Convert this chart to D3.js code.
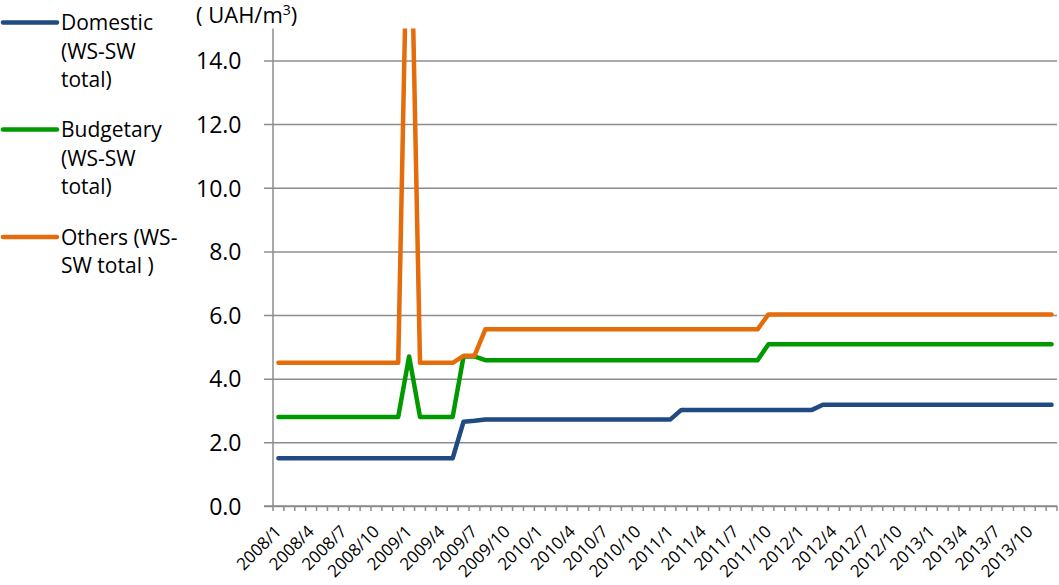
<!DOCTYPE html>
<html>
<head>
<meta charset="utf-8">
<script src="https://cdn.jsdelivr.net/npm/d3@7"></script>
<style>
  body { margin: 0; background: #fff; }
  svg { display: block; font-family: "Open Sans", sans-serif; }
</style>
</head>
<body>
<svg id="chart" width="1059" height="585"></svg>
<script>
// Monthly tariffs, WS-SW total, UAH per cubic metre
const months = [
  "2008/1","2008/2","2008/3","2008/4","2008/5","2008/6","2008/7","2008/8","2008/9","2008/10","2008/11","2008/12",
  "2009/1","2009/2","2009/3","2009/4","2009/5","2009/6","2009/7","2009/8","2009/9","2009/10","2009/11","2009/12",
  "2010/1","2010/2","2010/3","2010/4","2010/5","2010/6","2010/7","2010/8","2010/9","2010/10","2010/11","2010/12",
  "2011/1","2011/2","2011/3","2011/4","2011/5","2011/6","2011/7","2011/8","2011/9","2011/10","2011/11","2011/12",
  "2012/1","2012/2","2012/3","2012/4","2012/5","2012/6","2012/7","2012/8","2012/9","2012/10","2012/11","2012/12",
  "2013/1","2013/2","2013/3","2013/4","2013/5","2013/6","2013/7","2013/8","2013/9","2013/10","2013/11","2013/12"
];

const domestic = [
  1.50,1.50,1.50,1.50,1.50,1.50,1.50,1.50,1.50,1.50,1.50,1.50,
  1.50,1.50,1.50,1.50,1.50,2.65,2.68,2.72,2.72,2.72,2.72,2.72,
  2.72,2.72,2.72,2.72,2.72,2.72,2.72,2.72,2.72,2.72,2.72,2.72,
  2.72,3.02,3.02,3.02,3.02,3.02,3.02,3.02,3.02,3.02,3.02,3.02,
  3.02,3.02,3.18,3.18,3.18,3.18,3.18,3.18,3.18,3.18,3.18,3.18,
  3.18,3.18,3.18,3.18,3.18,3.18,3.18,3.18,3.18,3.18,3.18,3.18
];

const budgetary = [
  2.80,2.80,2.80,2.80,2.80,2.80,2.80,2.80,2.80,2.80,2.80,2.80,
  4.70,2.80,2.80,2.80,2.80,4.70,4.70,4.58,4.58,4.58,4.58,4.58,
  4.58,4.58,4.58,4.58,4.58,4.58,4.58,4.58,4.58,4.58,4.58,4.58,
  4.58,4.58,4.58,4.58,4.58,4.58,4.58,4.58,4.58,5.08,5.08,5.08,
  5.08,5.08,5.08,5.08,5.08,5.08,5.08,5.08,5.08,5.08,5.08,5.08,
  5.08,5.08,5.08,5.08,5.08,5.08,5.08,5.08,5.08,5.08,5.08,5.08
];

const others = [
  4.50,4.50,4.50,4.50,4.50,4.50,4.50,4.50,4.50,4.50,4.50,4.50,
  21.5,4.50,4.50,4.50,4.50,4.72,4.72,5.55,5.55,5.55,5.55,5.55,
  5.55,5.55,5.55,5.55,5.55,5.55,5.55,5.55,5.55,5.55,5.55,5.55,
  5.55,5.55,5.55,5.55,5.55,5.55,5.55,5.55,5.55,6.02,6.02,6.02,
  6.02,6.02,6.02,6.02,6.02,6.02,6.02,6.02,6.02,6.02,6.02,6.02,
  6.02,6.02,6.02,6.02,6.02,6.02,6.02,6.02,6.02,6.02,6.02,6.02
];

const seriesNames = ["Domestic (WS-SW total)", "Budgetary (WS-SW total)", "Others (WS-SW total )"];
const legendLines = [["Domestic", "(WS-SW", "total)"], ["Budgetary", "(WS-SW", "total)"], ["Others (WS-", "SW total )"]];
const seriesColors = ["#1F4A82", "#009A00", "#E46C0A"];
const yTicks = [0, 2, 4, 6, 8, 10, 12, 14];
const xLabelEvery = 3;

const svg = d3.select("#chart");
const plot = { left: 273, right: 1057, top: 28.6, bottom: 506 };
const gridColor = "#8C8C8C";

const x = d3.scaleBand().domain(months).range([plot.left, plot.right]).paddingInner(0).paddingOuter(0);
const y = d3.scaleLinear().domain([0, 15]).range([plot.bottom, plot.top]);
const xc = m => x(m) + x.bandwidth() / 2;

// horizontal gridlines with short outside ticks
const yAxis = d3.axisLeft(y)
  .tickValues(yTicks)
  .tickSize(-(plot.right - plot.left))
  .tickSizeOuter(0)
  .tickFormat(d3.format(".1f"))
  .tickPadding(0);

const gy = svg.append("g").attr("transform", `translate(${plot.left},0)`).call(yAxis);
gy.select(".domain").remove();
gy.selectAll(".tick line")
  .attr("x1", -9)
  .attr("stroke", gridColor)
  .attr("stroke-width", 1.5);
gy.selectAll(".tick text")
  .attr("x", 241.5 - plot.left)
  .attr("dy", "0.36em")
  .attr("fill", "#000")
  .style("font-family", "'Open Sans', sans-serif")
  .style("font-size", "23px");

// vertical axis line
svg.append("line")
  .attr("x1", plot.left).attr("x2", plot.left)
  .attr("y1", plot.top).attr("y2", plot.bottom)
  .attr("stroke", gridColor).attr("stroke-width", 1.5);

// category axis: tick marks between months
const gx = svg.append("g").attr("transform", `translate(0,${plot.bottom})`);
const boundaries = months.map(m => x(m)).concat([plot.right]);
gx.selectAll("line.tk").data(boundaries).join("line")
  .attr("class", "tk")
  .attr("x1", d => d).attr("x2", d => d)
  .attr("y1", 0).attr("y2", 5)
  .attr("stroke", gridColor).attr("stroke-width", 1.5);
gx.append("line")
  .attr("x1", plot.left - 9).attr("x2", plot.right)
  .attr("y1", 0).attr("y2", 0)
  .attr("stroke", gridColor).attr("stroke-width", 1.5);
gx.selectAll("text").data(months.filter((m, i) => i % xLabelEvery === 0)).join("text")
  .attr("transform", m => `translate(${xc(m) + 4},${26.5}) rotate(-45)`)
  .attr("text-anchor", "end")
  .style("font-size", "17px")
  .attr("fill", "#000")
  .text(m => m);

// unit label
const unit = svg.append("text")
  .attr("x", 196).attr("y", 23)
  .style("font-size", "22px")
  .attr("fill", "#000");
unit.append("tspan").text("( UAH/m");
unit.append("tspan").attr("dy", -8).style("font-size", "14px").text("3");
unit.append("tspan").attr("dy", 8).text(")");

// series lines, clipped to the plot area
svg.append("clipPath").attr("id", "plotClip")
  .append("rect")
  .attr("x", plot.left).attr("y", plot.top)
  .attr("width", plot.right - plot.left + 4)
  .attr("height", plot.bottom - plot.top);

const allSeries = [domestic, budgetary, others];
const line = d3.line().x((d, i) => xc(months[i])).y(d => y(d));

svg.append("g").attr("clip-path", "url(#plotClip)")
  .selectAll("path").data(allSeries).join("path")
  .attr("d", d => line(d))
  .attr("fill", "none")
  .attr("stroke", (d, i) => seriesColors[i])
  .attr("stroke-width", 4.5)
  .attr("stroke-linejoin", "round")
  .attr("stroke-linecap", "round");

// legend
const legendTop = [22.5, 129.5, 237];
const lineGap = 28.7;
const lg = svg.append("g");
legendLines.forEach((lines, i) => {
  lg.append("line")
    .attr("x1", 3).attr("x2", 57)
    .attr("y1", legendTop[i]).attr("y2", legendTop[i])
    .attr("stroke", seriesColors[i])
    .attr("stroke-width", 4.5)
    .attr("stroke-linecap", "round");
  const t = lg.append("text")
    .attr("x", 61).attr("y", legendTop[i])
    .style("font-size", "21px")
    .attr("fill", "#000");
  lines.forEach((s, k) => {
    t.append("tspan")
      .attr("x", 61)
      .attr("y", legendTop[i] + k * lineGap)
      .attr("dy", "0.36em")
      .text(s);
  });
});
</script>
</body>
</html>
